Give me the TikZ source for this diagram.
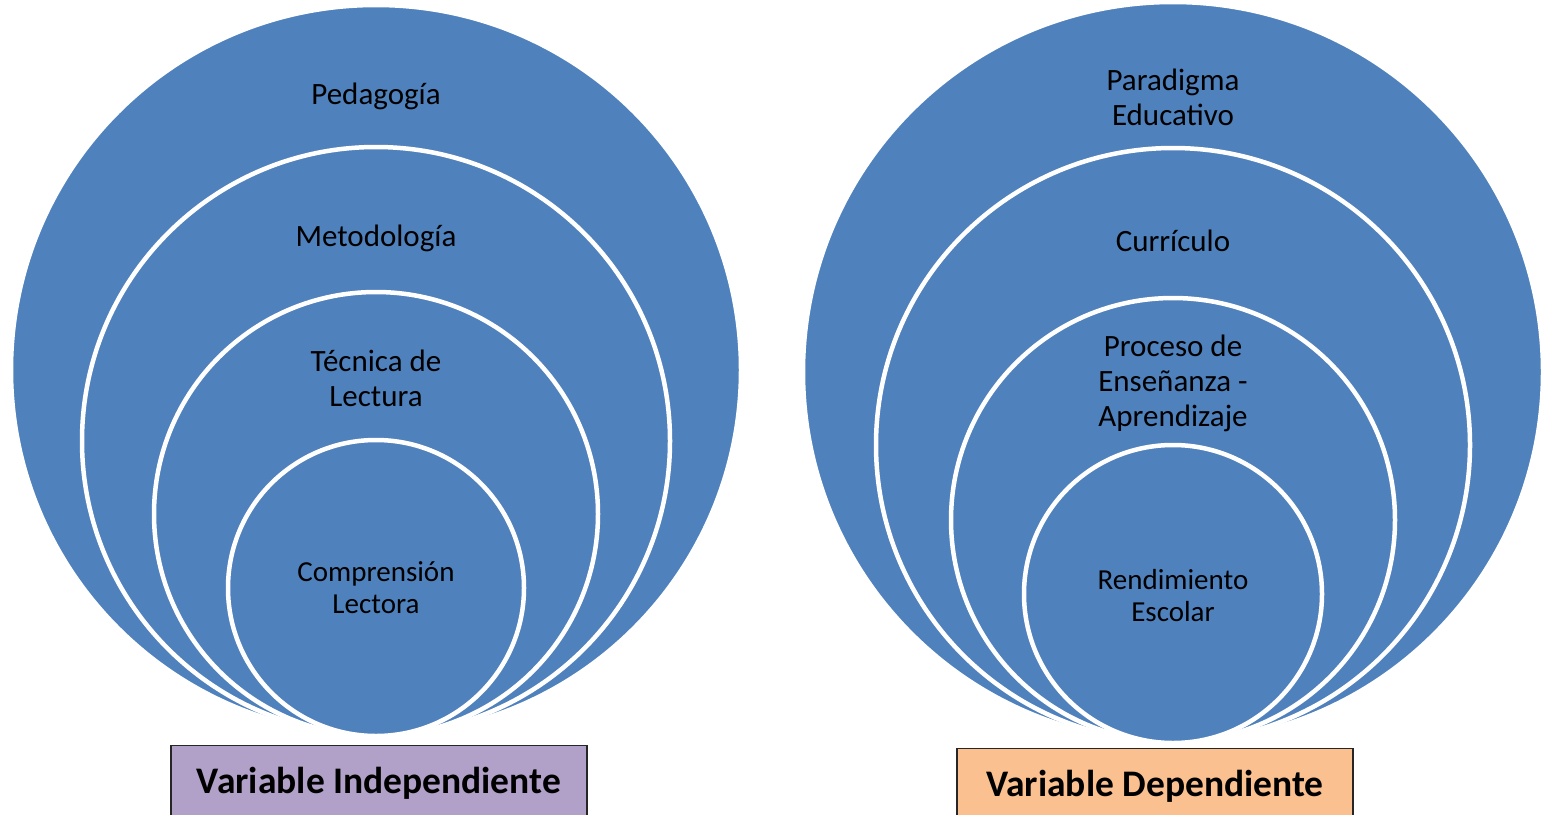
\documentclass[tikz,border=0pt]{standalone}
\usepackage{fontspec}
\setmainfont{Carlito}
\usepackage{tikz}
\usetikzlibrary{positioning}
\definecolor{anilloazul}{HTML}{4F81BD}
\definecolor{cajalila}{HTML}{B1A0C7}
\definecolor{cajanaranja}{HTML}{FAC090}
\tikzset{anillo/.style={circle, fill=anilloazul, draw=white, line width=4.5pt, inner sep=0pt},
	etiqueta/.style={align=center, font=\fontsize{31}{35}\selectfont},
	etiquetachica/.style={align=center, font=\fontsize{29}{32}\selectfont},
	caja/.style={draw=black!85, line width=1.3pt, anchor=north, minimum height=76pt, font=\bfseries\fontsize{37.5}{40}\selectfont}}

\begin{document}
\begin{tikzpicture}[x=1pt, y=-1pt]
		\useasboundingbox (0,0) rectangle (1550,814);
		% variable independiente
		\node[anillo, minimum size=730pt] (I1) at (376,370) {};
		\node[anillo, minimum size=588pt] (I2) at (376,441) {};
		\node[anillo, minimum size=444pt] (I3) at (376,514) {};
		\node[anillo, minimum size=296pt] (I4) at (376,588) {};
		\node[etiqueta] (tI1) at (376,96) {Pedagogía};
		\node[etiqueta] (tI2) at (376,238) {Metodología};
		\node[etiqueta] (tI3) at (376,378) {Técnica de\\Lectura};
		\node[etiquetachica] (tI4) at (376,588) {Comprensión\\Lectora};
		\node[caja, fill=cajalila, minimum width=416pt] (VI) at (379,745) {Variable Independiente};
		% variable dependiente
		\node[anillo, minimum size=740pt] (D1) at (1173,372) {};
		\node[anillo, minimum size=594pt] (D2) at (1173,445) {};
		\node[anillo, minimum size=444pt] (D3) at (1173,520) {};
		\node[anillo, minimum size=298pt] (D4) at (1173,594) {};
		\node[etiqueta] (tD1) at (1173,97) {Paradigma\\Educativo};
		\node[etiqueta] (tD2) at (1173,241) {Currículo};
		\node[etiqueta] (tD3) at (1173,383) {Proceso de\\Enseñanza -\\Aprendizaje};
		\node[etiquetachica] (tD4) at (1173,596) {Rendimiento\\Escolar};
		\node[caja, fill=cajanaranja, minimum width=396pt] (VD) at (1155,748) {Variable Dependiente};
\end{tikzpicture}
\end{document}
